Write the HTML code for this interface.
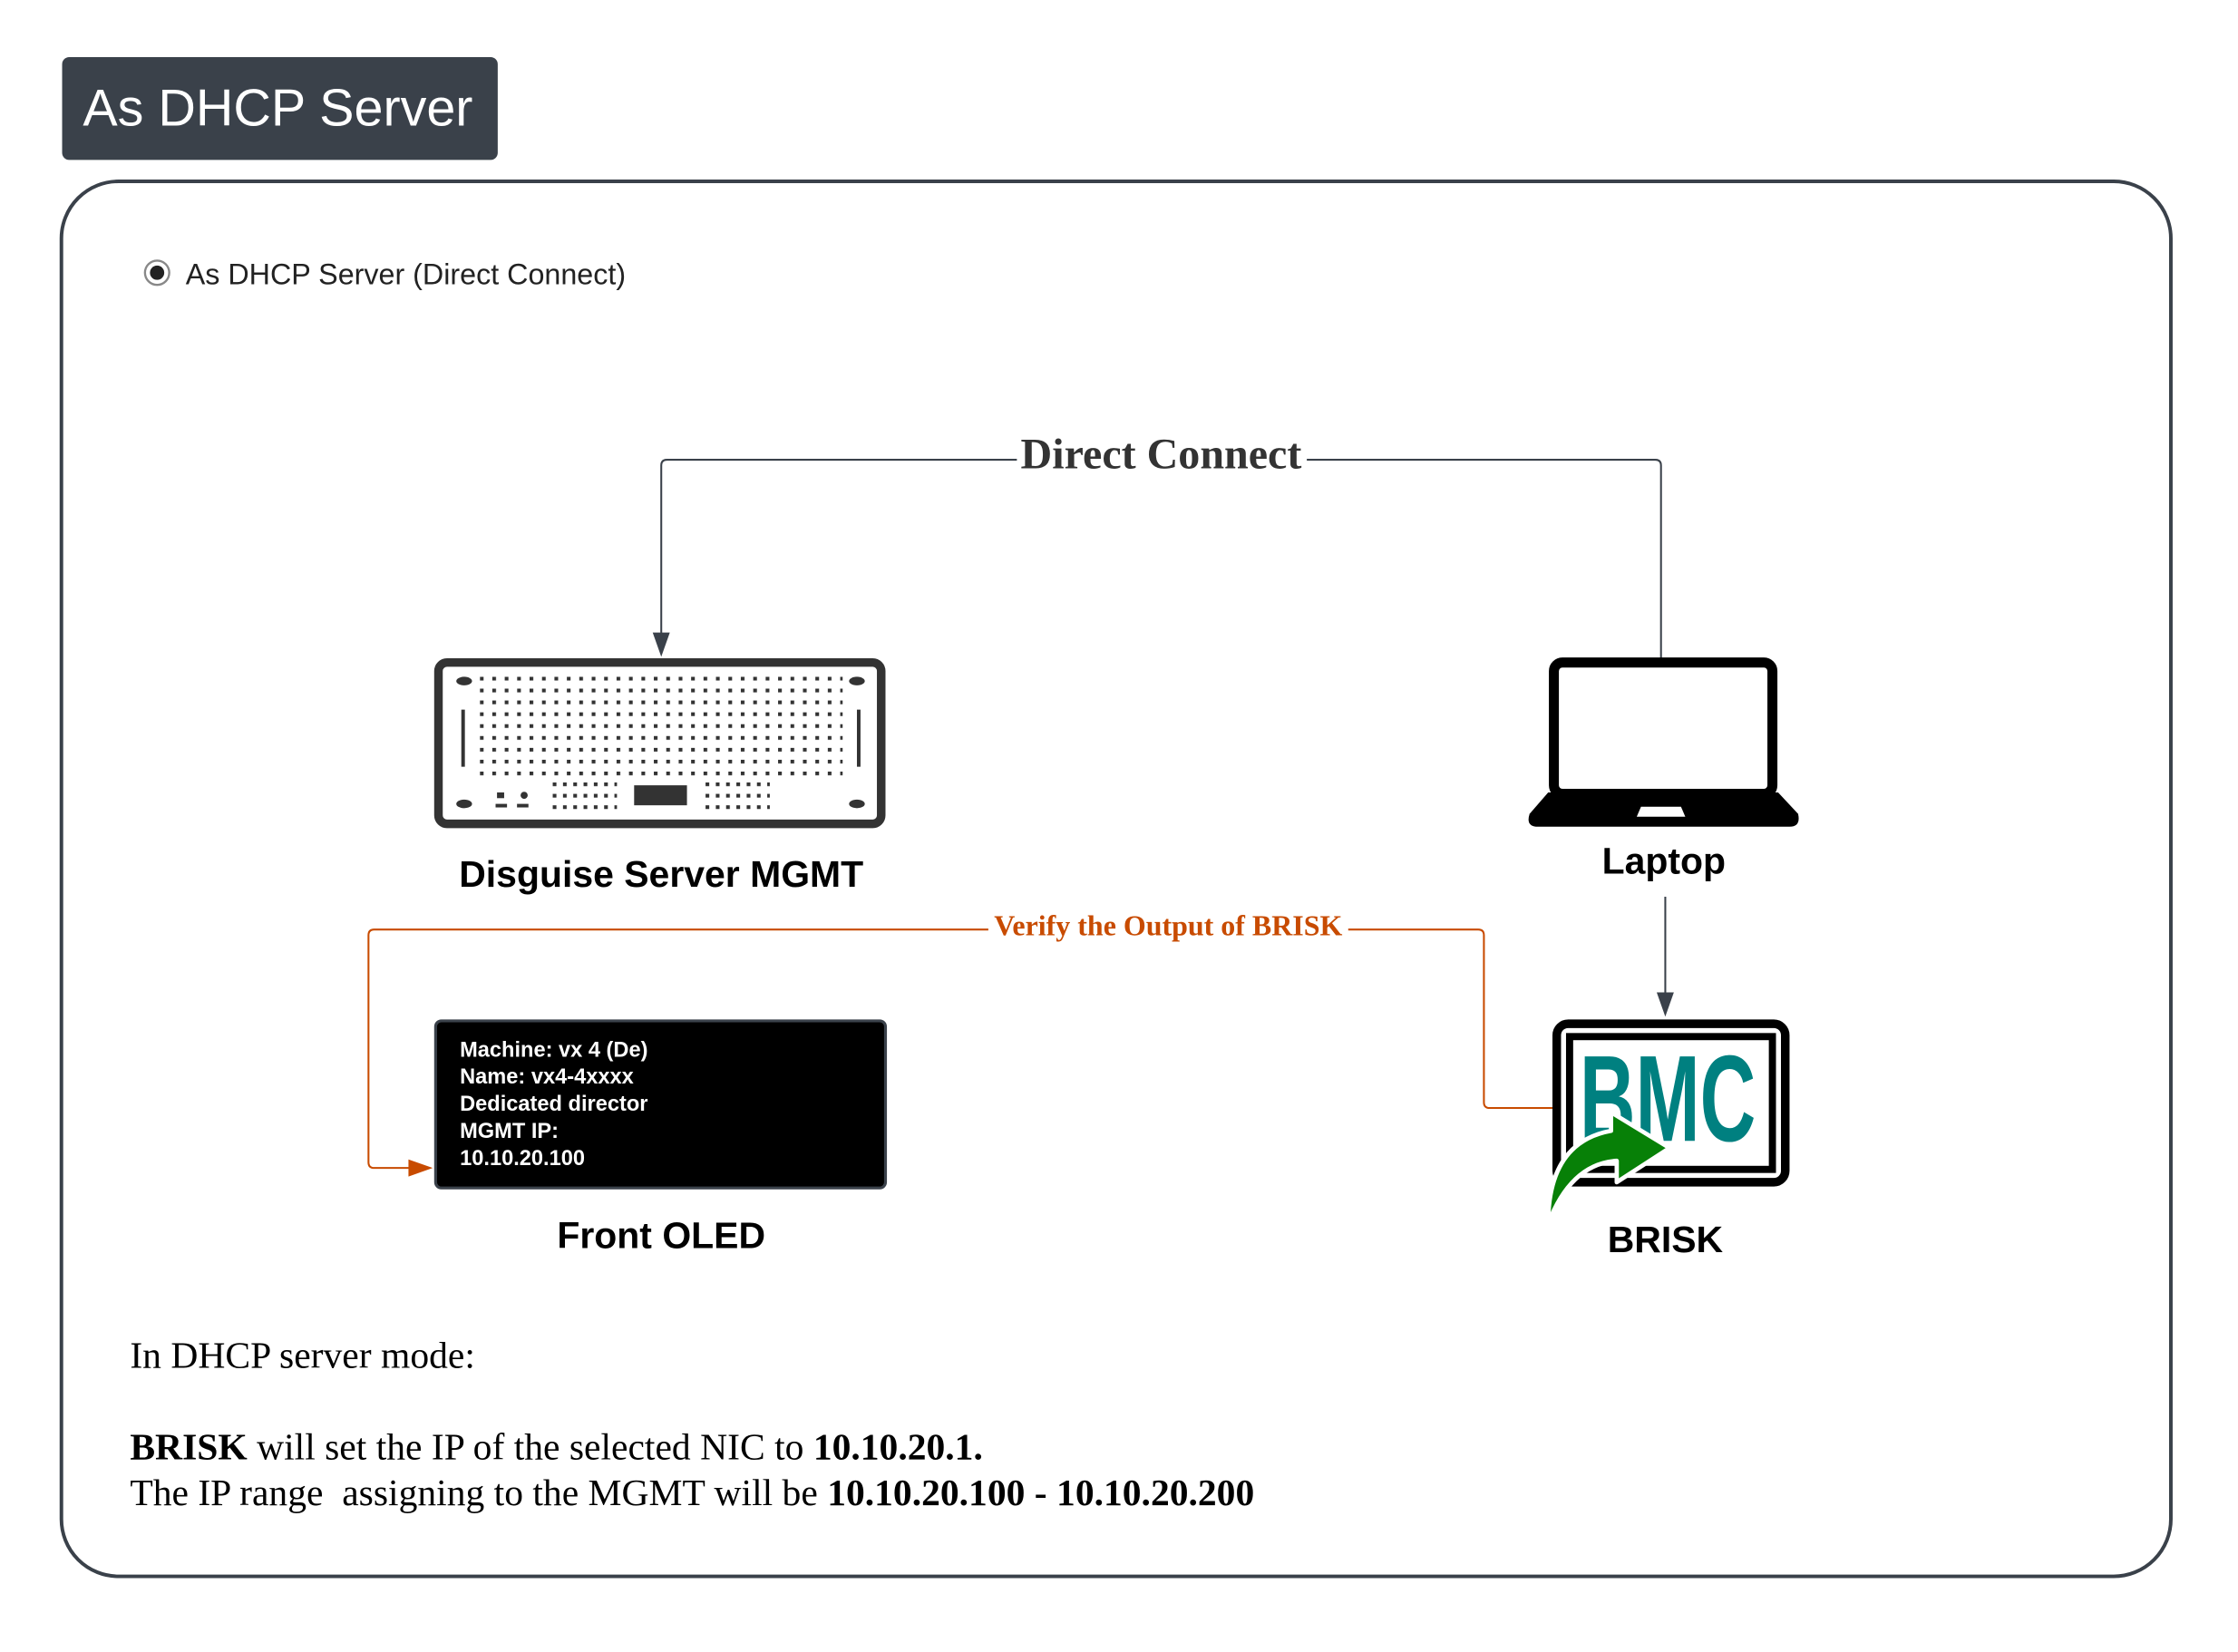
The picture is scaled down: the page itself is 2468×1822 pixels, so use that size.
<!DOCTYPE html>
<html><head><meta charset="utf-8"><style>
html,body{margin:0;padding:0;background:#fff;}
svg{display:block;}
.sans{font-family:"Liberation Sans","DejaVu Sans",sans-serif;}
.serif{font-family:"Liberation Serif",serif;}
</style></head><body>
<svg width="2468" height="1822" viewBox="0 0 1567 1157" preserveAspectRatio="none" xmlns="http://www.w3.org/2000/svg">
<defs>
<pattern id="dots" x="336" y="474" width="8.7" height="8.3" patternUnits="userSpaceOnUse"><rect x="0" y="0" width="2.6" height="2.6" fill="#333"/></pattern>
<pattern id="dots2" x="387" y="548" width="7.2" height="8" patternUnits="userSpaceOnUse"><rect x="0" y="0" width="2.6" height="2.6" fill="#333"/></pattern>
<pattern id="dots3" x="494" y="548" width="7.2" height="8" patternUnits="userSpaceOnUse"><rect x="0" y="0" width="2.6" height="2.6" fill="#333"/></pattern>
</defs>
<rect width="1567" height="1157" fill="#fff"/>
<!-- title -->
<rect x="43.5" y="40" width="305" height="72" rx="5" fill="#3a414a"/>
<text x="58" y="88" class="sans" font-size="36.5" fill="#fff">As DHCP Server</text>
<!-- container -->
<rect x="43" y="127" width="1477" height="977" rx="40" fill="none" stroke="#3a414a" stroke-width="2.5"/>
<!-- radio -->
<circle cx="110" cy="191" r="8.5" fill="#fff" stroke="#888" stroke-width="1.5"/>
<circle cx="110" cy="191" r="5" fill="#222"/>
<text x="130" y="199" class="sans" font-size="20.5" fill="#222">As DHCP Server (Direct Connect)</text>
<!-- direct connect -->
<path d="M1163 461 V326 Q1163 322 1159 322 H467 Q463 322 463 326 V446" fill="none" stroke="#3a414a" stroke-width="1.3"/>
<polygon points="457,443 469,443 463,460" fill="#3a414a"/>
<rect x="712" y="300" width="203" height="36" fill="#fff"/>
<text x="813" y="328" text-anchor="middle" class="serif" font-size="30.5" font-weight="bold" fill="#333">Direct Connect</text>
<!-- server -->
<rect x="307" y="464" width="310" height="113" rx="6" fill="#fff" stroke="#333" stroke-width="6"/>
<rect x="336" y="474" width="254" height="70" fill="url(#dots)"/>
<rect x="387" y="548" width="45" height="20" fill="url(#dots2)"/>
<rect x="494" y="548" width="45" height="20" fill="url(#dots3)"/>
<rect x="444" y="550" width="37" height="14" fill="#333"/>
<ellipse cx="325" cy="477" rx="5.5" ry="3" fill="#333"/><ellipse cx="600" cy="477" rx="5.5" ry="3" fill="#333"/>
<ellipse cx="325" cy="563" rx="5.5" ry="3" fill="#333"/><ellipse cx="600" cy="563" rx="5.5" ry="3" fill="#333"/>
<rect x="323" y="497" width="2.5" height="40" fill="#333"/><rect x="600" y="497" width="2.5" height="40" fill="#333"/>
<rect x="348" y="555" width="5" height="4" fill="#333"/><circle cx="367" cy="557" r="2.5" fill="#333"/>
<rect x="347" y="563" width="8" height="2.5" fill="#333"/><rect x="362" y="563" width="8" height="2.5" fill="#333"/>
<text x="463" y="621" text-anchor="middle" class="sans" font-size="26" font-weight="bold" fill="#000">Disguise Server MGMT</text>
<!-- laptop -->
<rect x="1088" y="464" width="153" height="92" rx="6" fill="#fff" stroke="#000" stroke-width="7"/>
<path d="M1084 555 H1245 L1259 570 Q1261 579 1253 579 H1077 Q1068 579 1071 570 Z" fill="#000"/>
<path d="M1149 565 H1177 L1180 572 H1146 Z" fill="#fff"/>
<text x="1165" y="612" text-anchor="middle" class="sans" font-size="26" font-weight="bold" fill="#000">Laptop</text>
<!-- laptop -> brisk -->
<line x1="1166" y1="628" x2="1166" y2="698" stroke="#3a414a" stroke-width="1.3"/>
<polygon points="1160,695 1172,695 1166,712" fill="#3a414a"/>
<!-- orange connector -->
<path d="M1087 776 H1043 Q1039 776 1039 772 V655 Q1039 651 1035 651 H262 Q258 651 258 655 V814 Q258 818 262 818 H290" fill="none" stroke="#c84b00" stroke-width="1.3"/>
<polygon points="286,812 303,818 286,824" fill="#c84b00"/>
<rect x="692" y="638" width="252" height="24" fill="#fff"/>
<text x="818" y="655" text-anchor="middle" class="serif" font-size="20.3" font-weight="bold" fill="#c84b00">Verify the Output of BRISK</text>
<!-- OLED -->
<rect x="305" y="715" width="315" height="117" rx="4" fill="#000" stroke="#3a414a" stroke-width="2"/>
<g class="sans" font-size="15" font-weight="bold" fill="#fff">
<text x="322" y="740">Machine: vx 4 (De)</text>
<text x="322" y="759">Name: vx4-4xxxx</text>
<text x="322" y="778">Dedicated director</text>
<text x="322" y="797">MGMT IP:</text>
<text x="322" y="816">10.10.20.100</text>
</g>
<text x="463" y="874" text-anchor="middle" class="sans" font-size="26" font-weight="bold" fill="#000">Front OLED</text>
<!-- BRISK -->
<rect x="1090" y="717" width="160" height="111" rx="8" fill="#fff" stroke="#000" stroke-width="6"/>
<rect x="1099" y="726" width="142" height="93" fill="none" stroke="#000" stroke-width="5"/>
<text x="0" y="0" transform="translate(1106 799) scale(0.63 1)" class="sans" font-size="86" font-weight="bold" fill="#008080">BMC</text>
<path d="M1084 857 Q1084 800 1128 792 L1128 779 L1169 804 L1132 828 L1132 813 Q1100 815 1084 857 Z" fill="#078007" stroke="#fff" stroke-width="3" stroke-linejoin="round"/>
<text x="1166" y="877" text-anchor="middle" class="sans" font-size="26" font-weight="bold" fill="#000">BRISK</text>
<!-- bottom text -->
<g class="serif" font-size="26.4" fill="#000">
<text x="91" y="958">In DHCP server mode:</text>
<text x="91" y="1022"><tspan font-weight="bold">BRISK</tspan> will set the IP of the selected NIC to <tspan font-weight="bold">10.10.20.1.</tspan></text>
<text x="91" y="1054" xml:space="preserve">The IP range  assigning to the MGMT will be <tspan font-weight="bold">10.10.20.100 - 10.10.20.200</tspan></text>
</g>
</svg>
</body></html>
